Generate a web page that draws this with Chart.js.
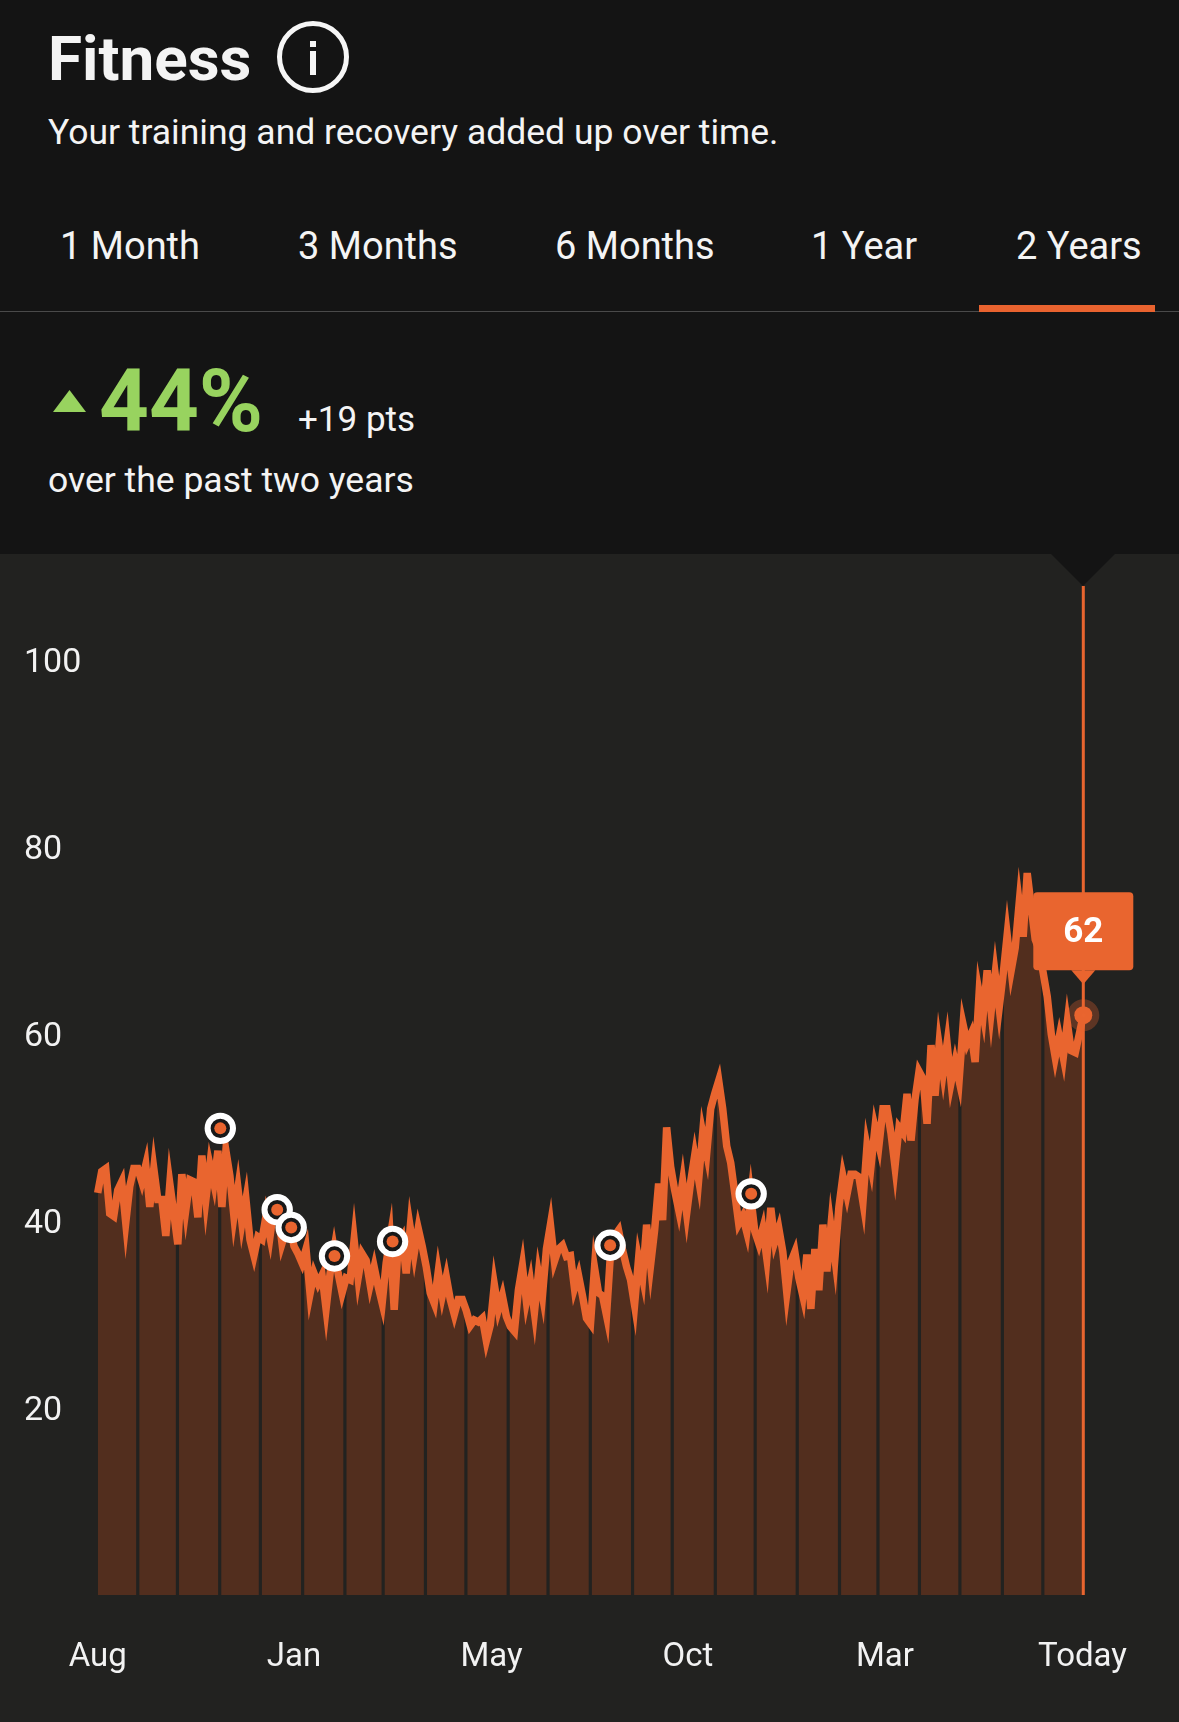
<!DOCTYPE html>
<html>
<head>
<meta charset="utf-8">
<title>Fitness</title>
<script src="https://cdn.jsdelivr.net/npm/chart.js@4"></script>
<style>
  html, body { margin: 0; padding: 0; background: #141414; }
  #page { position: relative; width: 1179px; height: 1722px; overflow: hidden; background: #141414; color: #f4f4f4; font-family: Roboto, sans-serif; }
  #page span, #page div { position: absolute; white-space: nowrap; }
  #panel { left: 0; top: 554px; width: 1179px; height: 1168px; background: #222220; }
  #fitnessChart { position: absolute; left: 0; top: 554px; display: block; }
  #notch { left: 1051px; top: 554px; width: 64px; height: 32px; background: #141414; clip-path: polygon(0 0, 100% 0, 50% 100%); }
  .title { left: 48px; top: 25px; font-size: 62px; line-height: 68px; font-weight: 700; }
  #info { left: 277px; top: 21px; width: 62px; height: 62px; border: 5.5px solid #f6f6f6; border-radius: 50%; }
  #infoDot { left: 310px; top: 41px; width: 6px; height: 6px; background: #f6f6f6; }
  #infoBar { left: 310px; top: 51px; width: 6px; height: 24px; background: #f6f6f6; }
  .sub { left: 48px; top: 110px; font-size: 35.5px; line-height: 44px; }
  .tab { top: 224px; font-size: 38px; line-height: 44px; }
  #divider { left: 0; top: 311px; width: 1179px; height: 1px; background: #4a4a4a; }
  #tabLine { left: 979px; top: 305px; width: 176px; height: 7px; background: #e9632f; }
  #arrow { left: 53px; top: 390px; width: 33px; height: 22px; background: #98d35f; clip-path: polygon(50% 0, 100% 100%, 0 100%); }
  #pct { left: 99px; top: 351px; font-size: 87px; line-height: 100px; font-weight: 700; color: #98d35f; }
  #pts { left: 298px; top: 398px; font-size: 35px; line-height: 44px; }
  #over { left: 48px; top: 458px; font-size: 35.5px; line-height: 44px; }
</style>
</head>
<body>
<div id="page">
  <span class="title">Fitness</span>
  <div id="info"></div><div id="infoDot"></div><div id="infoBar"></div>
  <span class="sub">Your training and recovery added up over time.</span>
  <span class="tab" style="left:60px">1 Month</span>
  <span class="tab" style="left:298px">3 Months</span>
  <span class="tab" style="left:555px">6 Months</span>
  <span class="tab" style="left:811px">1 Year</span>
  <span class="tab" style="left:1016px">2 Years</span>
  <div id="divider"></div>
  <div id="tabLine"></div>
  <div id="arrow"></div>
  <span id="pct">44%</span>
  <span id="pts">+19 pts</span>
  <span id="over">over the past two years</span>
  <div id="panel"></div>
  <canvas id="fitnessChart" width="1179" height="1168"></canvas>
  <div id="notch"></div>
</div>

<script>
/* =========================
  Data
========================= */
const fitnessValues = [
  43, 45.3, 45.6, 40.8, 40.5, 43.3, 44.2, 39.8, 43.7, 45.6,
  45.6, 44.2, 46, 41.5, 45.6, 42.3, 42.3, 38.4, 44, 40.8,
  37.5, 45, 41.2, 44.4, 44.2, 40.4, 47, 42.3, 46, 44,
  47.5, 41.5, 47.5, 44.8, 40.5, 43.5, 39.8, 42.3, 38, 36.3,
  38.3, 38, 40.5, 38.3, 41.5, 41.2, 37.6, 39, 39.3, 37.3,
  36.5, 35.5, 37, 32.2, 34.4, 33.3, 34.2, 30.6, 34.4, 37,
  34.4, 32.3, 33.9, 33.7, 38, 33.9, 36.5, 35.8, 33.2, 35.1,
  33, 31.2, 35.5, 38.2, 30.5, 37.4, 38.2, 34.4, 39.3, 36.5,
  39.2, 37.3, 35.1, 32.3, 31.2, 34.6, 32, 34, 31.6, 30,
  31.6, 31.6, 30.4, 28.8, 29.4, 29.2, 29.6, 27.2, 28.9, 33.2,
  30.5, 32, 29.8, 28.7, 28.2, 32.6, 35.2, 31.4, 33.5, 30.2,
  34.4, 32, 37, 39.6, 35.7, 37, 37.4, 36.2, 36.3, 32.8,
  34.2, 32, 29.6, 29, 35, 32.3, 32, 29.9, 36.6, 38.4,
  39, 36.9, 35.1, 33.7, 31, 36, 33.9, 39.6, 35.3, 39,
  44, 40.1, 50, 45.8, 43.3, 41.2, 44.2, 40.8, 44.2, 47,
  44.4, 49.4, 47.2, 52, 53.6, 55, 52, 48, 46.2, 43,
  39.7, 40.5, 38.8, 42.6, 38.9, 37.6, 39.2, 36, 41.4, 37.8,
  39.2, 36.7, 32.3, 35.6, 36.7, 33.9, 32, 36.4, 30.6, 37,
  32.6, 39.6, 34.6, 39.4, 36, 41.5, 44.8, 42.8, 45, 45,
  44.7, 42, 48, 45.8, 50, 48.1, 52, 52, 49.4, 45.8,
  50, 49.4, 53.6, 48.6, 53, 56, 55.2, 50.4, 58.8, 53.4,
  58.8, 55.8, 59, 54.8, 57, 55, 61, 59, 60, 57,
  64.4, 62, 66.8, 62.4, 66.4, 62.8, 66.4, 70.6, 66.8, 69.2,
  74, 70.4, 77.2, 73.6, 70.1, 69, 66.5, 64, 60, 57.5,
  59.7, 57.5, 61.2, 58.2, 58, 60, 62
];

// sample positions where a new month starts
const monthStarts = [
  10, 19.9, 30.45, 40.6, 51.15, 61.7, 71.25, 81.8, 91.9, 102.45, 112.4, 122.95,
  133.5, 143.4, 154.15, 164.1, 174.6, 185.15, 194.75, 205.1, 215.2, 225.8, 235.9
];

const markerIndex = [30.6, 44.8, 48.3, 59.1, 73.6, 127.9, 163.1];
const markerValue = [49.9, 41.2, 39.3, 36.25, 37.8, 37.4, 42.9];

const xTickPositions = [0, 49, 98.3, 147.3, 196.5, 245.8];
const xTickLabels = ["Aug", "Jan", "May", "Oct", "Mar", "Today"];
const yTickValues = [20, 40, 60, 80, 100];

const lastIndex = fitnessValues.length - 1;
const currentValue = fitnessValues[lastIndex];
const yTop = 107.9;

const ORANGE = "#e9652f";
const FILL = "#522e1e";
const PANEL = "#222220";
const FONT = "Roboto, sans-serif";

/* =========================
  Helper
========================= */
function valueAt(index) {
  const a = Math.floor(index);
  const b = Math.min(a + 1, lastIndex);
  return fitnessValues[a] + (fitnessValues[b] - fitnessValues[a]) * (index - a);
}

const linePoints = fitnessValues.map((v, i) => ({ x: i, y: v }));
const markerPoints = markerIndex.map((x, i) => ({ x, y: markerValue[i] }));
const separatorBars = monthStarts.map(x => ({ x, y: valueAt(x) }));

/* =========================
  Callout with the latest value
========================= */
const calloutPlugin = {
  id: "callout",
  afterDatasetsDraw(chart) {
    const { ctx, scales } = chart;
    const px = scales.x.getPixelForValue(lastIndex);
    const py = scales.y.getPixelForValue(currentValue);
    const top = py - 123;

    ctx.save();
    ctx.fillStyle = ORANGE;
    ctx.beginPath();
    ctx.roundRect(px - 50, top, 100, 78, 4);
    ctx.fill();
    ctx.beginPath();
    ctx.moveTo(px - 12, top + 78);
    ctx.lineTo(px + 12, top + 78);
    ctx.lineTo(px, top + 92);
    ctx.closePath();
    ctx.fill();
    ctx.fillStyle = "#ffffff";
    ctx.font = "700 35px " + FONT;
    ctx.textAlign = "center";
    ctx.textBaseline = "middle";
    ctx.fillText(String(currentValue), px, top + 41);
    ctx.restore();
  }
};

/* =========================
  Render Chart
========================= */
new Chart(document.getElementById("fitnessChart"), {
  type: "line",
  data: {
    datasets: [
      {
        // halo and dot for the latest value
        data: [{ x: lastIndex, y: currentValue }],
        showLine: false,
        pointRadius: 9,
        pointBorderWidth: 14,
        pointBackgroundColor: ORANGE,
        pointBorderColor: "rgba(233,101,47,0.3)",
        order: 0,
        clip: false
      },
      {
        // centre of the activity markers
        data: markerPoints,
        showLine: false,
        pointRadius: 6,
        pointBorderWidth: 0,
        pointBackgroundColor: ORANGE,
        order: 1,
        clip: false
      },
      {
        // white ring of the activity markers
        data: markerPoints,
        showLine: false,
        pointRadius: 12.7,
        pointBorderWidth: 6,
        pointBackgroundColor: "#181818",
        pointBorderColor: "#ffffff",
        order: 2,
        clip: false
      },
      {
        // today line
        data: [{ x: lastIndex, y: 0 }, { x: lastIndex, y: yTop }],
        borderColor: ORANGE,
        borderWidth: 3,
        pointRadius: 0,
        order: 3,
        clip: false
      },
      {
        data: linePoints,
        borderColor: ORANGE,
        borderWidth: 7.5,
        borderJoinStyle: "miter",
        tension: 0,
        pointRadius: 0,
        order: 4,
        clip: false
      },
      {
        // month separators
        type: "bar",
        data: separatorBars,
        backgroundColor: PANEL,
        barThickness: 2.5,
        order: 5
      },
      {
        data: linePoints,
        borderWidth: 0,
        backgroundColor: FILL,
        fill: "origin",
        tension: 0,
        pointRadius: 0,
        order: 6
      }
    ]
  },
  plugins: [calloutPlugin],
  options: {
    responsive: false,
    animation: false,
    devicePixelRatio: 1,
    layout: { padding: { left: 24, right: 95.7, top: 32, bottom: 0 } },
    plugins: { legend: { display: false }, tooltip: { enabled: false } },
    scales: {
      x: {
        type: "linear",
        offset: false,
        min: 0,
        max: lastIndex,
        grid: { display: false },
        border: { display: false },
        afterBuildTicks: scale => { scale.ticks = xTickPositions.map(value => ({ value })); },
        afterFit: scale => { scale.height = 127; },
        ticks: {
          autoSkip: false,
          maxRotation: 0,
          padding: 35,
          color: "#f2f2f2",
          font: { family: FONT, size: 33 },
          callback: (value, i) => xTickLabels[i]
        }
      },
      y: {
        min: 0,
        max: yTop,
        grid: { display: false },
        border: { display: false },
        afterBuildTicks: scale => { scale.ticks = yTickValues.map(value => ({ value })); },
        afterFit: scale => { scale.width = 73.7; },
        ticks: {
          crossAlign: "far",
          labelOffset: 4,
          color: "#f2f2f2",
          font: { family: FONT, size: 34 },
          callback: value => String(value)
        }
      }
    }
  }
});
</script>
</body>
</html>
